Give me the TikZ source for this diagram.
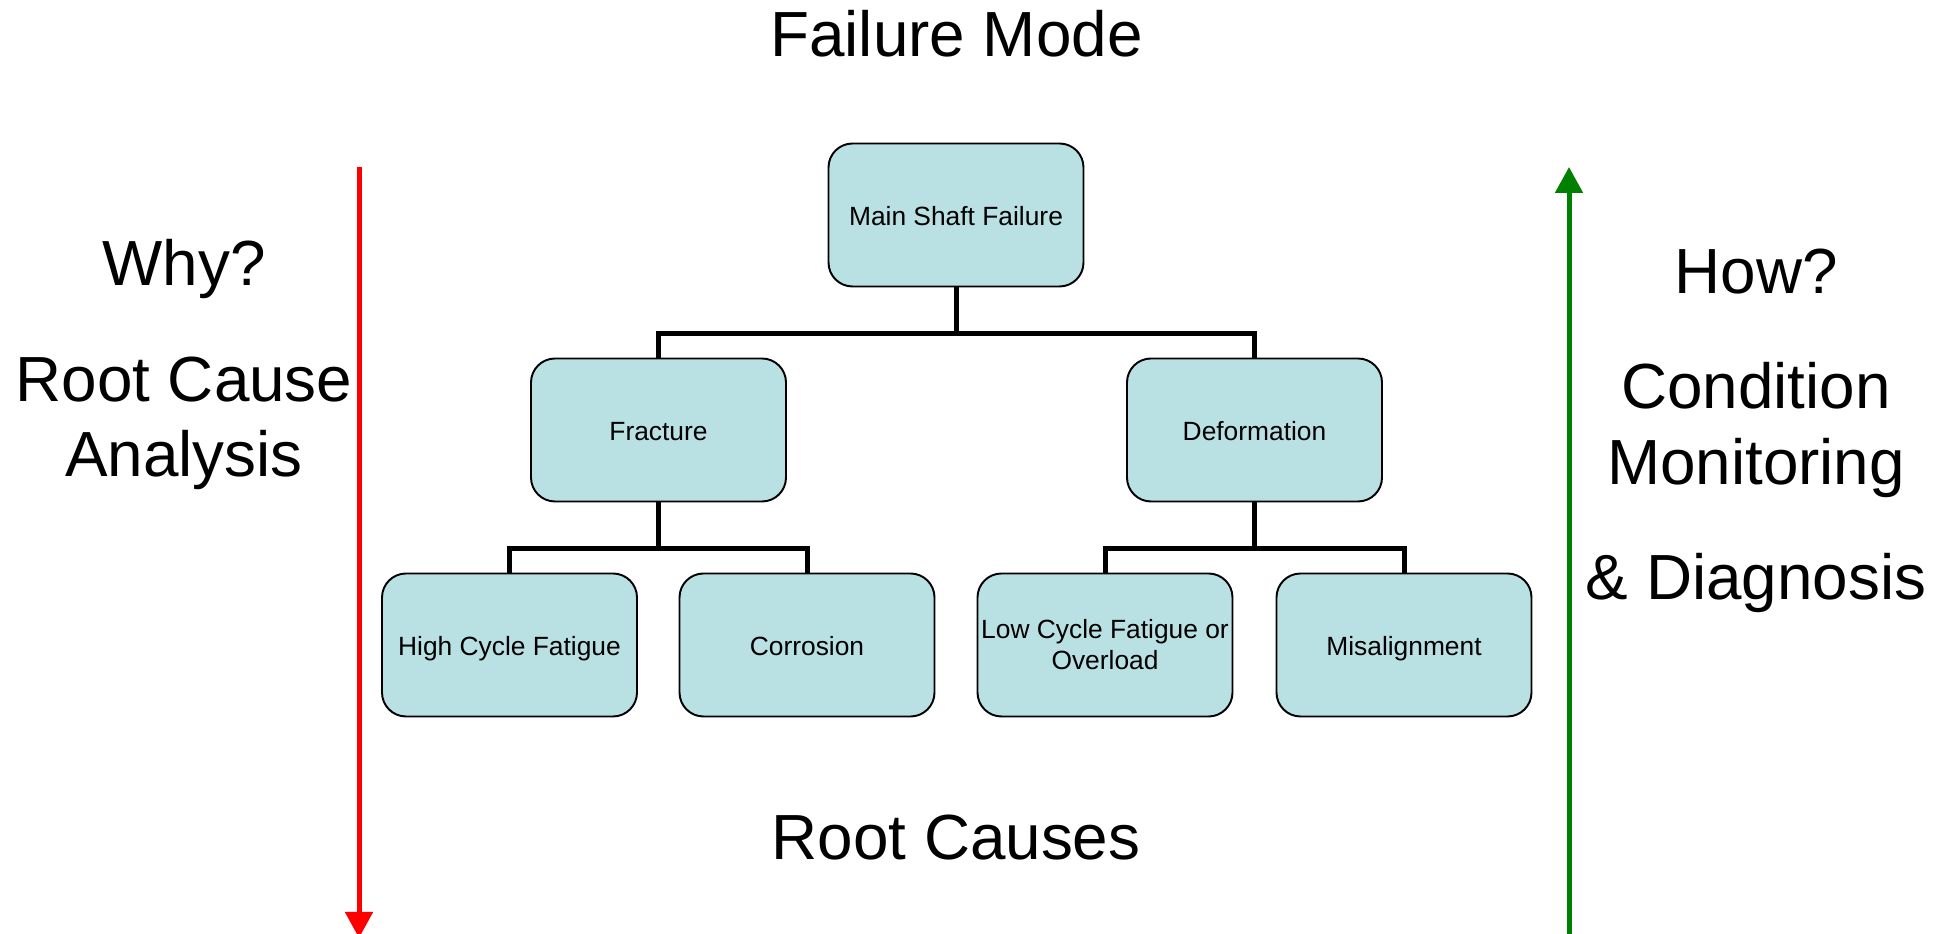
\documentclass[tikz,border=0pt]{standalone}
\usepackage{fontspec}
\setmainfont{Liberation Sans}
\usepackage{xcolor}
\usepackage{tikz}
\usetikzlibrary{arrows.meta}
\usetikzlibrary{shapes}

\definecolor{boxfill}{RGB}{185,224,227}
\definecolor{upgreen}{RGB}{0,128,0}

\begin{document}
\begin{tikzpicture}[
    box/.style = {draw = black, fill = boxfill, line width = 1.1pt, rounded corners = 0.48cm,
        minimum width = 5.1cm, minimum height = 2.86cm, inner sep = 0pt, align = center,
        font = \fontsize{15}{17.6}\selectfont},
    onebox/.style = {box, text height = 14pt, text depth = 2.6pt},
    link/.style = {line width = 0.1cm},
    big/.style = {anchor = base, inner sep = 0pt, font = \fontsize{36.3}{43}\selectfont}]
    \useasboundingbox (0, 0) rectangle (39, 18.68);

    % the tree
    \node [onebox] (main) at (19.12, 14.38) {Main Shaft Failure};
    \node [onebox] (frac) at (13.17, 10.08) {Fracture};
    \node [onebox] (defo) at (25.09, 10.08) {Deformation};
    \node [onebox] (hcf) at (10.19, 5.78) {High Cycle Fatigue};
    \node [onebox] (corr) at (16.14, 5.78) {Corrosion};
    \node [box] (lcf) at (22.10, 5.78) {Low Cycle Fatigue or\\Overload};
    \node [onebox] (misal) at (28.08, 5.78) {Misalignment};

    \coordinate (bar1) at (19.12, 12.0);
    \coordinate (fbar) at (13.17, 7.70);
    \coordinate (dbar) at (25.09, 7.70);

    \draw [link] (main.south) -- (bar1);
    \draw [link] (frac.north) |- (bar1) -| (defo.north);
    \draw [link] (frac.south) -- (fbar);
    \draw [link] (hcf.north) |- (fbar) -| (corr.north);
    \draw [link] (defo.south) -- (dbar);
    \draw [link] (lcf.north) |- (dbar) -| (misal.north);

    % titles
    \node [big] (fmode) at (19.13, 17.54) {Failure Mode};
    \node [big] (rcauses) at (19.12, 1.48) {Root Causes};

    % left side
    \coordinate (whytop) at (7.18, 15.34);
    \coordinate (whybot) at (7.18, -0.08);
    \draw [link, red, -{Triangle[width = 0.54cm, length = 0.52cm]}] (whytop) -- (whybot);
    \node [big] (why) at (3.68, 12.96) {Why?};
    \node [big] (rca1) at (3.68, 10.64) {Root Cause};
    \node [big] (rca2) at (3.68, 9.14) {Analysis};

    % right side
    \coordinate (howbot) at (31.38, -0.1);
    \coordinate (howtop) at (31.38, 15.34);
    \draw [link, upgreen, -{Triangle[width = 0.54cm, length = 0.52cm]}] (howbot) -- (howtop);
    \node [big] (how) at (35.12, 12.80) {How?};
    \node [big] (cm1) at (35.12, 10.50) {Condition};
    \node [big] (cm2) at (35.12, 8.98) {Monitoring};
    \node [big] (cm3) at (35.12, 6.68) {\& Diagnosis};
\end{tikzpicture}
\end{document}
